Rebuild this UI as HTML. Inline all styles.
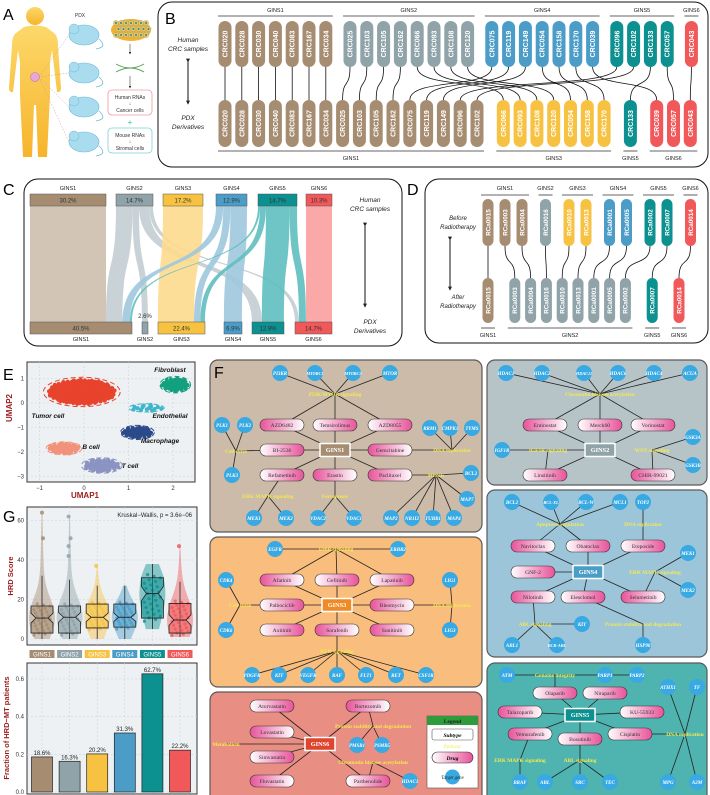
<!DOCTYPE html>
<html><head><meta charset="utf-8">
<style>
html,body{margin:0;padding:0;background:#fff;}
svg{display:block;font-family:"Liberation Sans",sans-serif;}
.serif{font-family:"Liberation Serif",serif;}
</style></head>
<body>
<svg id="fig" width="710" height="795" viewBox="0 0 710 795" xmlns="http://www.w3.org/2000/svg">
<defs>
<linearGradient id="skin" x1="0" y1="0" x2="0" y2="1"><stop offset="0" stop-color="#fcd86a"/><stop offset="1" stop-color="#f7b42c"/></linearGradient>
<linearGradient id="drugA" x1="0" y1="0" x2="1" y2="0"><stop offset="0" stop-color="#e8539a"/><stop offset="1" stop-color="#ffffff"/></linearGradient>
<linearGradient id="drugB" x1="0" y1="0" x2="1" y2="0"><stop offset="0" stop-color="#ffffff"/><stop offset="1" stop-color="#e8539a"/></linearGradient>
<marker id="arr" viewBox="0 0 6 6" refX="5" refY="3" markerWidth="4" markerHeight="4" orient="auto"><path d="M0,0L6,3L0,6Z" fill="#222"/></marker>
<marker id="tee" viewBox="0 0 4 8" refX="2" refY="4" markerWidth="3" markerHeight="6" orient="auto"><path d="M2,0L2,8" stroke="#222" stroke-width="1.5"/></marker>
</defs>

<!-- Panel A -->
<g>
<text x="3" y="20" font-size="16">A</text>
<circle cx="35" cy="16" r="9" fill="url(#skin)"/>
<path fill="url(#skin)" d="M24,27 Q35,24 46,27 L54,33 Q58,36 58,46 L61,88 Q61,93 57,92 L52,50 L50,62 L50,95 L47,157 L38,157 L36,105 L34,105 L32,157 L23,157 L20,95 L20,62 L18,50 L13,92 Q9,93 9,88 L12,46 Q12,36 16,33 Z"/>
<circle cx="35" cy="77" r="4.5" fill="#e9a7d8" stroke="#b57ab0" stroke-width="0.6"/>
<text x="80" y="17" font-size="5" fill="#333" text-anchor="middle">PDX</text>
<g id="mice"></g>
<g>
<ellipse cx="131" cy="30" rx="20" ry="11" fill="#f2b035"/>
<g id="cells"></g>
</g>
<path d="M130,44 L130,54" stroke="#444" stroke-width="0.6" marker-end="url(#arr)"/>
<path d="M116,64 Q130,72 144,64 M116,72 Q130,64 144,72" stroke="#5aa05a" stroke-width="1" fill="none"/>
<path d="M130,76 L130,88" stroke="#444" stroke-width="0.6" marker-end="url(#arr)"/>
<rect x="108" y="90" width="44" height="25" rx="4" fill="#fff" stroke="#f09aa0" stroke-width="0.8"/>
<text x="130" y="99" font-size="5" text-anchor="middle" fill="#333">Human RNAs</text>
<text x="130" y="105" font-size="5" text-anchor="middle" fill="#333">↓</text>
<text x="130" y="112" font-size="5" text-anchor="middle" fill="#333">Cancer cells</text>
<text x="130" y="125" font-size="8" text-anchor="middle" fill="#3cb7b0">+</text>
<rect x="108" y="128" width="44" height="25" rx="4" fill="#fff" stroke="#7fd3d0" stroke-width="0.8"/>
<text x="130" y="137" font-size="5" text-anchor="middle" fill="#333">Mouse RNAs</text>
<text x="130" y="143" font-size="5" text-anchor="middle" fill="#333">↓</text>
<text x="130" y="150" font-size="5" text-anchor="middle" fill="#333">Stromal cells</text>
</g>

<!-- Panel B -->
<g id="panelB">
<rect x="158" y="2" width="550" height="165" rx="14" fill="#fff" stroke="#111" stroke-width="1"/>
<text x="165" y="24" font-size="16">B</text>
<text x="188" y="42" font-size="6.5" font-style="italic" text-anchor="middle" fill="#222">Human</text>
<text x="188" y="51" font-size="6.5" font-style="italic" text-anchor="middle" fill="#222">CRC samples</text>
<path d="M188,62 L188,104" stroke="#111" stroke-width="1" marker-start="url(#arr)" marker-end="url(#arr)"/>
<text x="188" y="120" font-size="6.5" font-style="italic" text-anchor="middle" fill="#222">PDX</text>
<text x="188" y="129" font-size="6.5" font-style="italic" text-anchor="middle" fill="#222">Derivatives</text>
</g>

<!-- Panel C -->
<g id="panelC">
<rect x="24" y="179" width="378" height="167" rx="14" fill="#fff" stroke="#111" stroke-width="1"/>
<text x="3" y="195" font-size="16">C</text>
<text x="370" y="202" font-size="6.5" font-style="italic" text-anchor="middle" fill="#222">Human</text>
<text x="370" y="211" font-size="6.5" font-style="italic" text-anchor="middle" fill="#222">CRC samples</text>
<path d="M365,226 L365,307" stroke="#111" stroke-width="1" marker-start="url(#arr)" marker-end="url(#arr)"/>
<text x="370" y="324" font-size="6.5" font-style="italic" text-anchor="middle" fill="#222">PDX</text>
<text x="370" y="333" font-size="6.5" font-style="italic" text-anchor="middle" fill="#222">Derivatives</text>
</g>

<!-- Panel D -->
<g id="panelD">
<rect x="425" y="179" width="283" height="164" rx="14" fill="#fff" stroke="#111" stroke-width="1"/>
<text x="407" y="195" font-size="16">D</text>
<text x="458" y="220" font-size="6" font-style="italic" text-anchor="middle" fill="#222">Before</text>
<text x="458" y="229" font-size="6" font-style="italic" text-anchor="middle" fill="#222">Radiotherapy</text>
<path d="M450,240 L450,290" stroke="#111" stroke-width="1" marker-start="url(#arr)" marker-end="url(#arr)"/>
<text x="458" y="299" font-size="6" font-style="italic" text-anchor="middle" fill="#222">After</text>
<text x="458" y="308" font-size="6" font-style="italic" text-anchor="middle" fill="#222">Radiotherapy</text>
</g>

<!-- Panel E -->
<g id="panelE">
<text x="3" y="380" font-size="16">E</text>
<rect x="27" y="362" width="168" height="120" fill="#eef1f4" stroke="#333" stroke-width="1"/>
<text x="85" y="498" font-size="8" font-weight="bold" fill="#9b1c1c" text-anchor="middle">UMAP1</text>
<text transform="translate(12,408) rotate(-90)" font-size="8" font-weight="bold" fill="#9b1c1c" text-anchor="middle">UMAP2</text>
</g>

<!-- Panel G -->
<g id="panelG">
<text x="3" y="522" font-size="16">G</text>
<rect x="27" y="507" width="170" height="138" fill="#eef1f4" stroke="#333" stroke-width="1"/>
<text x="192" y="517" font-size="6" fill="#222" text-anchor="end">Kruskal−Wallis, p = 3.6e−06</text>
<text transform="translate(13,576) rotate(-90)" font-size="7.5" font-weight="bold" fill="#9b1c1c" text-anchor="middle">HRD Score</text>
<rect x="27" y="663" width="170" height="131" fill="#eef1f4" stroke="#333" stroke-width="1"/>
<text transform="translate(9,728) rotate(-90)" font-size="7.5" font-weight="bold" fill="#9b1c1c" text-anchor="middle">Fraction of HRD−MT patients</text>
</g>

<!-- Panel F -->
<g id="panelF" class="serif"></g>
</svg>

<script>
const NS="http://www.w3.org/2000/svg";
function mk(tag,attrs,parent,txt){const e=document.createElementNS(NS,tag);for(const k in attrs)e.setAttribute(k,attrs[k]);if(txt!==undefined)e.textContent=txt;(parent||document.getElementById('fig')).appendChild(e);return e;}
const COL={GINS1:"#a68c71",GINS2:"#8fa3a9",GINS3:"#f7c242",GINS4:"#4b9dc8",GINS5:"#0c9090",GINS6:"#f0585a"};
const LIGHT={GINS1:"#cdbfae",GINS2:"#c3cdd1",GINS3:"#fdda8e",GINS4:"#9ec8de",GINS5:"#5fbfbf",GINS6:"#fb9fa0"};

// ---------- Panel A extras ----------
(function(){
  const m=document.getElementById('mice');
  const miceY=[35,73,107,142];
  miceY.forEach((y,i)=>{
    const e=mk('ellipse',{cx:84,cy:y,rx:15,ry:10,fill:"#a8dcee",stroke:"#6cb9d3","stroke-width":0.6},m);
    
    
    mk('circle',{cx:74,cy:y-6,r:5,fill:"#a8dcee",stroke:"#6cb9d3","stroke-width":0.5},m);
    mk('path',{d:`M99,${y+4} Q108,${y+12} 96,${y+14}`,stroke:"#6cb9d3","stroke-width":0.8,fill:"none"},m);
    mk('line',{x1:39,y1:77,x2:69,y2:y,stroke:"#c99","stroke-width":0.5,"stroke-dasharray":"1.5,1.5"},m);
  });
  const c=document.getElementById('cells');
  for(let r=0;r<3;r++)for(let k=0;k<7;k++){
    mk('circle',{cx:116+k*5+(r%2)*2.5,cy:23+r*6,r:2.6,fill:"#f5c24a",stroke:"#7aa","stroke-width":0.4},c);
    mk('circle',{cx:116+k*5+(r%2)*2.5,cy:23+r*6,r:1,fill:"#2a8aa8"},c);
  }
})();

// ---------- Panel B ----------
const bTopNames=["CRC020","CRC028","CRC030","CRC040","CRC083","CRC167","CRC034","CRC025","CRC103","CRC105","CRC162","CRC066","CRC093","CRC108","CRC120","CRC075","CRC119","CRC149","CRC054","CRC158","CRC170","CRC039","CRC096","CRC102","CRC133","CRC057","CRC043"];
const bTopGroups=["GINS1","GINS1","GINS1","GINS1","GINS1","GINS1","GINS1","GINS2","GINS2","GINS2","GINS2","GINS2","GINS2","GINS2","GINS2","GINS4","GINS4","GINS4","GINS4","GINS4","GINS4","GINS4","GINS5","GINS5","GINS5","GINS5","GINS6"];
const bBotNames=["CRC020","CRC028","CRC030","CRC040","CRC083","CRC167","CRC034","CRC025","CRC103","CRC105","CRC162","CRC075","CRC119","CRC149","CRC096","CRC102","CRC066","CRC093","CRC108","CRC120","CRC054","CRC158","CRC170","CRC133","CRC039","CRC057","CRC043"];
const bBotGroups=["GINS1","GINS1","GINS1","GINS1","GINS1","GINS1","GINS1","GINS1","GINS1","GINS1","GINS1","GINS1","GINS1","GINS1","GINS1","GINS1","GINS3","GINS3","GINS3","GINS3","GINS3","GINS3","GINS3","GINS5","GINS6","GINS6","GINS6"];

function rowX(groups,x0,step,gap){const xs=[];let x=x0;groups.forEach((g,i)=>{if(i>0){x+=step;if(g!==groups[i-1])x+=gap;}xs.push(x);});return xs;}
function groupSpans(groups,xs){const s=[];groups.forEach((g,i)=>{if(!s.length||s[s.length-1].g!==g)s.push({g,a:xs[i],b:xs[i]});else s[s.length-1].b=xs[i];});return s;}
function pill(parent,x,y1,y2,w,color,label,fs,nm){
  const g=mk('g',{},parent);
  
  
  mk('rect',{x:x-w/2,y:y1,width:w,height:y2-y1,rx:w/2,fill:color},g);
  mk('text',{transform:`translate(${x+fs*0.36},${(y1+y2)/2}) rotate(-90)`,"font-size":fs,fill:"#fff","text-anchor":"middle","font-weight":"bold"},g,label);
}
function drawMatch(parent,topN,topG,botN,botG,topX,botX,top,bot,w,fs,lineYs,labelYs,prefix){
  const lg=mk('g',{},parent);
  topN.forEach((n,i)=>{const j=botN.indexOf(n);if(j<0)return;
    const x1=topX[i],x2=botX[j],y1=top[1],y2=bot[0],my=(y1+y2)/2;
    const p=mk('path',{d:`M${x1},${y1} C${x1},${my+6} ${x2},${my-6} ${x2},${y2}`,stroke:"#111","stroke-width":0.8,fill:"none"},lg);
    
    
  });
  topN.forEach((n,i)=>pill(parent,topX[i],top[0],top[1],w,COL[topG[i]],n,fs,prefix+'-top-pill'));
  botN.forEach((n,i)=>pill(parent,botX[i],bot[0],bot[1],w,COL[botG[i]],n,fs,prefix+'-bottom-pill'));
  groupSpans(topG,topX).forEach(s=>{
    mk('line',{x1:s.a-7,x2:s.b+7,y1:lineYs[0],y2:lineYs[0],stroke:"#333","stroke-width":0.8},parent);
    const t=mk('text',{x:(s.a+s.b)/2,y:labelYs[0],"font-size":5.5,"text-anchor":"middle",fill:"#222"},parent,s.g);
    
    
  });
  groupSpans(botG,botX).forEach(s=>{
    mk('line',{x1:s.a-7,x2:s.b+7,y1:lineYs[1],y2:lineYs[1],stroke:"#333","stroke-width":0.8},parent);
    const t=mk('text',{x:(s.a+s.b)/2,y:labelYs[1],"font-size":5.5,"text-anchor":"middle",fill:"#222"},parent,s.g);
    
    
  });
}
(function(){
  const P=document.getElementById('panelB');
  const tx=rowX(bTopGroups,225,16.8,7.4), bx=rowX(bBotGroups,225,16.8,9.5);
  drawMatch(P,bTopNames,bTopGroups,bBotNames,bBotGroups,tx,bx,[21,67],[100,147],13,7,[16,151],[12,160],'b');
})();

// ---------- Panel D ----------
const dTopNames=["RCa0015","RCa0003","RCa0004","RCa0016","RCa0010","RCa0013","RCa0001","RCa0005","RCa0002","RCa0007","RCa0014"];
const dTopGroups=["GINS1","GINS1","GINS1","GINS2","GINS3","GINS3","GINS4","GINS4","GINS5","GINS5","GINS6"];
const dBotNames=["RCa0015","RCa0003","RCa0004","RCa0016","RCa0010","RCa0013","RCa0001","RCa0005","RCa0002","RCa0007","RCa0014"];
const dBotGroups=["GINS1","GINS2","GINS2","GINS2","GINS2","GINS2","GINS2","GINS2","GINS2","GINS5","GINS6"];
(function(){
  const P=document.getElementById('panelD');
  const tx=rowX(dTopGroups,488,17,6.5), bx=rowX(dBotGroups,488,15.8,11);
  drawMatch(P,dTopNames,dTopGroups,dBotNames,dBotGroups,tx,bx,[199,246],[278,323],11,6.3,[195,328],[190,337],'d');
})();

// ---------- Panel C ----------
const cGroups=["GINS1","GINS2","GINS3","GINS4","GINS5","GINS6"];
const cTopPct=[30.2,14.7,17.2,12.9,14.7,10.3];
const cBotPct=[40.5,2.6,22.4,6.9,12.9,14.7];
const cFlowFrom=["GINS1","GINS2","GINS2","GINS2","GINS2","GINS3","GINS4","GINS4","GINS4","GINS5","GINS5","GINS5","GINS5","GINS6"];
const cFlowTo=  ["GINS1","GINS1","GINS2","GINS5","GINS6","GINS3","GINS1","GINS3","GINS4","GINS1","GINS3","GINS5","GINS6","GINS6"];
const cFlowVal= [30.2,  6.5,   2.6,   4.0,   1.6,   17.2,  3.0,   3.0,   6.9,   0.8,   2.2,   8.9,   2.8,   10.3];
(function(){
  const P=document.getElementById('panelC');
  const topBars=[[30,106],[116,153],[163,203],[216,247],[258,297],[306,332]];
  const botBars=[[30,132],[142,148],[158,205],[224,242],[252,284],[295,332]];
  const tTot={},bTot={},tUsed={},bUsed={};
  cGroups.forEach(g=>{tTot[g]=0;bTot[g]=0;tUsed[g]=0;bUsed[g]=0;});
  cFlowVal.forEach((v,i)=>{tTot[cFlowFrom[i]]+=v;bTot[cFlowTo[i]]+=v;});
  // order bottom by source index for nicer ribbons
  const order=cFlowVal.map((v,i)=>i);
  const botOrder=order.slice().sort((a,b)=>cGroups.indexOf(cFlowTo[a])-cGroups.indexOf(cFlowTo[b])||cGroups.indexOf(cFlowFrom[a])-cGroups.indexOf(cFlowFrom[b]));
  const seg={};
  order.forEach(i=>{const g=cFlowFrom[i],k=cGroups.indexOf(g),bb=topBars[k],w=(bb[1]-bb[0])*cFlowVal[i]/tTot[g];seg[i]={ta:bb[0]+tUsed[g],tb:bb[0]+tUsed[g]+w};tUsed[g]+=w;});
  botOrder.forEach(i=>{const g=cFlowTo[i],k=cGroups.indexOf(g),bb=botBars[k],w=(bb[1]-bb[0])*cFlowVal[i]/bTot[g];seg[i].ba=bb[0]+bUsed[g];seg[i].bb=bb[0]+bUsed[g]+w;bUsed[g]+=w;});
  const y1=206,y2=322,m1=250,m2=278;
  const fg=mk('g',{},P);
  order.forEach(i=>{const s=seg[i];
    const p=mk('path',{d:`M${s.ta},${y1} C${s.ta},${m2} ${s.ba},${m1} ${s.ba},${y2} L${s.bb},${y2} C${s.bb},${m1} ${s.tb},${m2} ${s.tb},${y1} Z`,fill:LIGHT[cFlowFrom[i]],opacity:0.9},fg);
    
    
  });
  cGroups.forEach((g,k)=>{
    const t=topBars[k],b=botBars[k];
    const r1=mk('rect',{x:t[0],y:194,width:t[1]-t[0],height:12,fill:COL[g],stroke:"#555","stroke-width":0.5},P);
    
    
    mk('text',{x:(t[0]+t[1])/2,y:202.5,"font-size":6,"text-anchor":"middle",fill:"#333"},P,cTopPct[k].toFixed(1)+"%");
    mk('text',{x:(t[0]+t[1])/2,y:190,"font-size":5.5,"text-anchor":"middle",fill:"#222"},P,g);
    const r2=mk('rect',{x:b[0],y:322,width:b[1]-b[0],height:12,fill:COL[g],stroke:"#555","stroke-width":0.5},P);
    
    
    const lab=cBotPct[k].toFixed(1)+"%";
    if(b[1]-b[0]<15) mk('text',{x:(b[0]+b[1])/2,y:318,"font-size":6,"text-anchor":"middle",fill:"#333"},P,lab);
    else mk('text',{x:(b[0]+b[1])/2,y:330.5,"font-size":6,"text-anchor":"middle",fill:"#333"},P,lab);
    mk('text',{x:(b[0]+b[1])/2,y:341,"font-size":5.5,"text-anchor":"middle",fill:"#222"},P,g);
  });
})();

// ---------- Panel E ----------
const eCellTypes=["Tumor cell","Fibroblast","Endothelial","Macrophage","B cell","T cell"];
const eCenterX=[-0.05,2.05,1.4,1.2,-0.45,0.4];
const eCenterY=[0.45,0.75,-0.2,-1.2,-1.85,-2.55];
const eSpreadX=[0.75,0.3,0.35,0.33,0.35,0.4];
const eSpreadY=[0.5,0.28,0.14,0.24,0.22,0.26];
const eCounts=[260,40,14,40,45,50];
const eColors=["#e8432d","#13a07e","#3fb5cc","#2b4a8a","#f0937a","#8a93c2"];
const eXTicks=[-1,0,1,2], eYTicks=[1,0,-1,-2,-3];
(function(){
  const P=document.getElementById('panelE');
  const X=u=>84+44.5*u, Y=v=>403-24.5*v;
  eXTicks.forEach(t=>{mk('line',{x1:X(t),x2:X(t),y1:362,y2:482,stroke:"#cfd3d8","stroke-width":0.6,"stroke-dasharray":"2,2"},P);
    const l=mk('text',{x:X(t),y:490,"font-size":6,"text-anchor":"middle",fill:"#333"},P,t<0?"−"+(-t):t);
    });
  eYTicks.forEach(t=>{mk('line',{x1:27,x2:195,y1:Y(t),y2:Y(t),stroke:"#cfd3d8","stroke-width":0.6,"stroke-dasharray":"2,2"},P);
    const l=mk('text',{x:24,y:Y(t)+2,"font-size":6,"text-anchor":"end",fill:"#333"},P,t<0?"−"+(-t):t);
    });
  const ga=2.39996;
  eCellTypes.forEach((c,k)=>{
    const g=mk('g',{},P);
    
    
    mk('ellipse',{cx:X(eCenterX[k]),cy:Y(eCenterY[k]),rx:44.5*eSpreadX[k]*1.15,ry:24.5*eSpreadY[k]*1.2,fill:"none",stroke:eColors[k],"stroke-width":1,"stroke-dasharray":"5,3"},g);
    for(let i=0;i<eCounts[k];i++){const r=Math.sqrt((i+0.5)/eCounts[k]),a=i*ga;
      mk('circle',{cx:X(eCenterX[k]+eSpreadX[k]*r*Math.cos(a)),cy:Y(eCenterY[k]+eSpreadY[k]*r*Math.sin(a)),r:2.1,fill:eColors[k]},g);}
  });
  const labs=[[48,418,"middle"],[170,372,"middle"],[170,418,"middle"],[160,443,"middle"],[91,449,"middle"],[130,468,"middle"]];
  eCellTypes.forEach((c,k)=>{const t=mk('text',{x:labs[k][0],y:labs[k][1],"font-size":6.5,"font-weight":"bold","font-style":"italic","text-anchor":labs[k][2],fill:"#111"},P,c);
    });
})();

// ---------- Panel G ----------
const gGroups=["GINS1","GINS2","GINS3","GINS4","GINS5","GINS6"];
const gMin=[0,0,0,0,5,1];
const gQ1=[3,3,5.6,6,10.6,3];
const gMed=[10.6,11,11,11,23,9.6];
const gQ3=[16.7,16.7,17.7,17.7,31,18];
const gWhiskHi=[32,30,27,27,38,29];
const gOutliers=[[64,51],[62,51,47,42],[37],[],[],[47]];
const gYTicks=[0,20,40,60];
const hrdFraction=[0.186,0.163,0.202,0.313,0.627,0.222];
const hrdLabels=["18.6%","16.3%","20.2%","31.3%","62.7%","22.2%"];
const fracTicks=[0.0,0.2,0.4,0.6];
(function(){
  const P=document.getElementById('panelG');
  const cx=k=>42+k*27.6, Y=v=>639-v*1.975, YB=v=>792-v*188.5;
  gYTicks.forEach(t=>{mk('line',{x1:27,x2:197,y1:Y(t),y2:Y(t),stroke:"#cfd3d8","stroke-width":0.6,"stroke-dasharray":"2,2"},P);
    mk('text',{x:24,y:Y(t)+2,"font-size":6,"text-anchor":"end",fill:"#333"},P,t);});
  gGroups.forEach((g,k)=>mk('line',{x1:cx(k),x2:cx(k),y1:507,y2:645,stroke:"#cfd3d8","stroke-width":0.6,"stroke-dasharray":"2,2"},P));
  gGroups.forEach((g,k)=>{
    const x=cx(k);
    // violin
    const lo=gMin[k],hi=Math.max(gWhiskHi[k],...gOutliers[k].concat([0])) ;
    const pts=[];const n=24;
    for(let i=0;i<=n;i++){const v=lo+(hi-lo)*i/n;let w;
      if(v<=gQ3[k]) w=11*Math.exp(-Math.pow((v-gMed[k])/((gQ3[k]-gQ1[k])*0.95),2))+2;
      else w=11*Math.exp(-Math.pow((v-gMed[k])/((gQ3[k]-gQ1[k])*0.95),2))+2*Math.max(0,(hi-v)/(hi-gQ3[k]))+0.4;
      pts.push([w,Y(v)]);}
    let d="M"+pts.map(p=>(x-p[0])+","+p[1]).join(" L")+" L"+pts.slice().reverse().map(p=>(x+p[0])+","+p[1]).join(" L")+"Z";
    const vi=mk('path',{d,fill:COL[g],opacity:0.45},P);
    
    // jitter points (deterministic spread within IQR-ish)
    for(let i=0;i<28;i++){const f=(i+0.5)/28,v=gQ1[k]+(gQ3[k]-gQ1[k])*(f*1.2-0.1),off=((i*7)%11-5)*1.6;
      mk('circle',{cx:x+off,cy:Y(v),r:1.6,fill:COL[g],opacity:0.8},P);}
    mk('line',{x1:x,x2:x,y1:Y(gMin[k]),y2:Y(gWhiskHi[k]),stroke:"#222","stroke-width":0.8},P);
    const hw=11,nw=6,nh=(gQ3[k]-gQ1[k])*0.18;
    const bx=mk('path',{d:`M${x-hw},${Y(gQ1[k])} L${x-hw},${Y(gMed[k]-nh)} L${x-nw},${Y(gMed[k])} L${x-hw},${Y(gMed[k]+nh)} L${x-hw},${Y(gQ3[k])} L${x+hw},${Y(gQ3[k])} L${x+hw},${Y(gMed[k]+nh)} L${x+nw},${Y(gMed[k])} L${x+hw},${Y(gMed[k]-nh)} L${x+hw},${Y(gQ1[k])} Z`,fill:COL[g],"fill-opacity":0.55,stroke:"#222","stroke-width":0.8},P);
    
    mk('line',{x1:x-nw,x2:x+nw,y1:Y(gMed[k]),y2:Y(gMed[k]),stroke:"#222","stroke-width":0.9},P);
    gOutliers[k].forEach(o=>mk('circle',{cx:x+((o*3)%5-2),cy:Y(o),r:2,fill:COL[g],opacity:0.85},P));
    // strip label
    const sr=mk('rect',{x:x-12.5,y:650,width:25,height:8,fill:COL[g]},P);
    
    mk('text',{x:x,y:656.5,"font-size":6,"text-anchor":"middle",fill:"#fff"},P,g);
  });
  // fraction bars
  fracTicks.forEach(t=>{mk('line',{x1:27,x2:197,y1:YB(t),y2:YB(t),stroke:"#cfd3d8","stroke-width":0.6,"stroke-dasharray":"2,2"},P);
    mk('text',{x:24,y:YB(t)+2,"font-size":6,"text-anchor":"end",fill:"#333"},P,t.toFixed(1));});
  gGroups.forEach((g,k)=>mk('line',{x1:cx(k),x2:cx(k),y1:663,y2:794,stroke:"#cfd3d8","stroke-width":0.6,"stroke-dasharray":"2,2"},P));
  hrdFraction.forEach((v,k)=>{const x=cx(k);
    const b=mk('rect',{x:x-10.5,y:YB(v),width:21,height:YB(0)-YB(v),fill:COL[gGroups[k]],stroke:"#222","stroke-width":0.7},P);
    
    const t=mk('text',{x:x,y:YB(v)-2,"font-size":6,"text-anchor":"middle",fill:"#222"},P,hrdLabels[k]);
    
  });
})();

// ---------- Panel F ----------
(function(){
  const P=document.getElementById('panelF');
  const boxes=[
    ["brown-box",210,360,482,532,"#cbbba8"],["gray-box",487,360,707,485,"#b7c4c7"],
    ["orange-box",210,537,482,687,"#f9bd7e"],["blue-box",487,490,707,657,"#9dc5d9"],
    ["red-box",210,692,482,795,"#e98e82"],["teal-box",487,663,707,795,"#4fb3b0"]];
  boxes.forEach(b=>{const r=mk('rect',{x:b[1],y:b[2],width:b[3]-b[1],height:b[4]-b[2]+(b[4]>=795?8:0),rx:8,fill:b[5],stroke:"#5a5a5a","stroke-width":1.2},P);
    });
  mk('text',{x:214,y:378,"font-size":16,"font-family":"Liberation Sans"},P,"F");
  const N={};
  const lines=mk('g',{},P), nodes=mk('g',{},P);
  function tgt(id,x,y,label){N[id]=[x,y];const g=mk('g',{},nodes);
    
    mk('circle',{cx:x,cy:y,r:8,fill:"#38a9e2"},g);
    mk('text',{x:x,y:y+1.8,"font-size":label.length>5?4.3:5,"font-style":"italic","font-weight":"bold","text-anchor":"middle",fill:"#fff"},g,label);}
  function drug(id,x,y,label,rev,w){w=w||44;N[id]=[x,y];const g=mk('g',{},nodes);
    
    mk('rect',{x:x-w/2,y:y-6,width:w,height:12,rx:6,fill:rev?"url(#drugB)":"url(#drugA)",stroke:"#333","stroke-width":0.6},g);
    mk('text',{x:x,y:y+2,"font-size":5.6,"text-anchor":"middle",fill:"#333"},g,label);}
  function path(id,x,y,label){N[id]=[x,y];const t=mk('text',{x:x,y:y+2,"font-size":5.4,"text-anchor":"middle",fill:"#f3e94e","font-weight":"bold"},nodes,label);
    }
  function gins(id,x,y,label,col){N[id]=[x,y];const g=mk('g',{},nodes);
    
    mk('rect',{x:x-15,y:y-6.5,width:30,height:13,fill:col,stroke:"#fff","stroke-width":1.5},g);
    mk('text',{x:x,y:y+2.2,"font-size":6.3,"font-weight":"bold","text-anchor":"middle",fill:"#fff"},g,label);}
  function ln(a,b,type){const A=N[a],B=N[b];const p=mk('line',{x1:A[0],y1:A[1],x2:B[0],y2:B[1],stroke:"#222","stroke-width":0.8},lines);
    if(type==='a')p.setAttribute('marker-end','url(#arr)');if(type==='t')p.setAttribute('marker-end','url(#tee)');}
  // brown
  tgt('pik3r',280,373,'PI3KR');tgt('mtorc1',315,373,'MTORC1');tgt('mtorc2',353,373,'MTORC2');tgt('mtor',390,373,'MTOR');
  path('pi3k',335,394,'PI3K/MTOR signaling');
  drug('azd64',282,425,'AZD6482');drug('tems',335,425,'Temsirolimus',true);drug('azd80',390,425,'AZD8055',true);
  gins('g1',335,450,'GINS1',COL.GINS1);
  drug('bi',282,450,'BI-2536',true);drug('gem',390,450,'Gemcitabine');
  tgt('plk1',222,425,'PLK1');tgt('plk2',245,425,'PLK2');tgt('plk3',232,475,'PLK3');path('cc1',236,451,'Cell cycle');
  drug('refa',282,475,'Refametinib',true);drug('eras',335,475,'Erastin');drug('pacl',390,475,'Paclitaxel');
  path('mit',436,475,'Mitosis');tgt('bcl2a',471,473,'BCL2');path('dna1',452,450,'DNA replication');
  tgt('rrm1',430,428,'RRM1');tgt('cmpk1',450,428,'CMPK1');tgt('tyms',472,428,'TYMS');
  path('erk1',268,496,'ERK MAPK signaling');tgt('mek1a',254,518,'MEK1');tgt('mek2a',286,518,'MEK2');
  path('ferr',335,496,'Ferroptosis');tgt('vdac2',318,518,'VDAC2');tgt('vdac1',354,518,'VDAC1');
  tgt('map2',391,518,'MAP2');tgt('nr1i2',412,518,'NR1I2');tgt('tubb1',433,518,'TUBB1');tgt('map4',454,518,'MAP4');tgt('map7',467,499,'MAP7');
  ['pik3r','mtorc1','mtorc2','mtor','azd64','tems','azd80'].forEach(n=>ln(n,'pi3k'));
  ['azd64','tems','azd80','bi','gem','refa','eras','pacl'].forEach(n=>ln(n,'g1','a'));
  ln('bi','cc1');ln('plk1','cc1');ln('plk2','cc1');ln('plk3','cc1');ln('pacl','mit');ln('mit','bcl2a','t');ln('gem','dna1');
  ['rrm1','cmpk1','tyms'].forEach(n=>ln(n,'dna1'));ln('refa','erk1');ln('erk1','mek1a');ln('erk1','mek2a');ln('eras','ferr');ln('ferr','vdac2');ln('ferr','vdac1');
  ['map2','nr1i2','tubb1','map4','map7'].forEach(n=>ln('mit',n,'a'));
  // gray
  [['h1',506,'HDAC1'],['h2',542,'HDAC2'],['h11',584,'HDAC11'],['h6',618,'HDAC6'],['h4',654,'HDAC4'],['acua',690,'ACUA']].forEach(a=>tgt(a[0],a[1],373,a[2]));
  path('chr',600,394,'Chromatin histone acetylation');
  drug('enti',545,425,'Entinostat');drug('merck',600,425,'Merck60',true);drug('vori',653,425,'Vorinostat',true);
  gins('g2',600,450,'GINS2',COL.GINS2);tgt('igf1r',502,450,'IGF1R');path('igfs',548,450,'IGF1R signaling');
  drug('lins',545,475,'Linsitinib',true);path('wnt',652,450,'WNT signaling');drug('chir',653,475,'CHIR-99021');
  tgt('gsk3a',693,437,'GSK3A');tgt('gsk3b',693,465,'GSK3B');
  ['h1','h2','h11','h6','h4','acua','enti','merck','vori'].forEach(n=>ln(n,'chr'));
  ['enti','merck','vori','lins','chir'].forEach(n=>ln(n,'g2','a'));ln('igfs','igf1r','t');ln('lins','igfs');ln('chir','wnt');ln('wnt','gsk3a');ln('wnt','gsk3b');ln('igfs','g2','a');
  // blue
  [['bcl2',512,'BCL2'],['bclxl',551,'BCL-XL'],['bclw',586,'BCL-W'],['mcl1',620,'MCL1'],['top2',643,'TOP2']].forEach(a=>tgt(a[0],a[1],502,a[2]));
  path('apo',560,524,'Apoptosis regulation');path('dna2',643,524,'DNA replication');
  drug('navi',533,546,'Navitoclax');drug('obat',588,546,'Obatoclax',true);drug('etop',643,546,'Etoposide',true);
  drug('gnf',533,572,'GNF-2',true);gins('g4',588,572,'GINS4',COL.GINS4);path('erk4',655,572,'ERK MAPK signaling');
  tgt('mek1b',688,553,'MEK1');tgt('mek2b',688,590,'MEK2');
  drug('nilo',533,597,'Nilotinib');drug('eles',583,597,'Elesclomol',true);drug('selu',643,597,'Selumetinib');
  path('abl4',535,624,'ABL signaling');tgt('kit4',582,624,'KIT');path('prot4',643,624,'Protein stability and degradation');
  tgt('abl1',512,645,'ABL1');tgt('bcr',557,645,'BCR-ABL');tgt('hsp',643,645,'HSP90');
  ['bcl2','bclxl','bclw','mcl1'].forEach(n=>ln('apo',n,'a'));ln('navi','apo');ln('obat','apo');ln('etop','dna2');ln('dna2','top2','a');
  ['navi','obat','etop','gnf','nilo','eles','selu'].forEach(n=>ln(n,'g4','a'));ln('selu','erk4');ln('erk4','mek1b','a');ln('erk4','mek2b','a');
  ln('nilo','abl4');ln('abl4','kit4','t');ln('abl4','abl1','a');ln('abl4','bcr','a');ln('eles','prot4');ln('prot4','hsp','t');
  // teal
  tgt('atm',507,675,'ATM');path('gen',555,675,'Genome integrity');tgt('parp1',605,675,'PARP1');tgt('parp2',637,675,'PARP2');
  drug('olap',555,693,'Olaparib',true);drug('nira',605,693,'Niraparib',true);drug('tala',520,712,'Talazoparib');
  gins('g5',580,715,'GINS5',COL.GINS5);drug('ku',642,712,'KU-55933',true);
  drug('vemu',530,734,'Vemurafenib');drug('bosu',580,739,'Bosutinib',true);drug('cisp',630,734,'Cisplatin',true);
  path('dna5',685,734,'DNA replication');tgt('atxn',668,687,'ATHX1');tgt('tf',697,687,'TF');tgt('mpg',668,782,'MPG');tgt('a2m',697,782,'A2M');
  path('erk5',520,760,'ERK MAPK signaling');path('abl5',580,760,'ABL signaling');
  tgt('braf',520,782,'BRAF');tgt('abl',545,782,'ABL');tgt('src',580,782,'SRC');tgt('tec',610,782,'TEC');
  ln('gen','atm','t');ln('gen','parp1','t');ln('parp1','parp2','t');ln('olap','gen');
  ['olap','nira','tala','ku','vemu','bosu','cisp'].forEach(n=>ln(n,'g5','a'));
  ln('cisp','dna5');ln('dna5','atxn','a');ln('dna5','tf','a');ln('dna5','mpg','a');ln('dna5','a2m','a');
  ln('vemu','erk5');ln('erk5','braf','t');ln('bosu','abl5');ln('abl5','abl','t');ln('abl5','src','t');ln('abl5','tec','t');
  // orange
  tgt('egfr',275,549,'EGFR');tgt('erbb2',398,549,'ERBB2');path('erbb',336,549,'ErbB signaling');
  drug('afat',282,580,'Afatinib');drug('gefi',337,580,'Gefitinib',true);drug('lapa',392,580,'Lapatinib',true);
  tgt('cdk4',226,580,'CDK4');tgt('lig1',450,580,'LIG1');path('cc3',240,605,'Cell cycle');
  drug('palb',282,605,'Palbociclib',true);gins('g3',337,605,'GINS3',COL.GINS3==="#f7c242"?"#f08a24":COL.GINS3);drug('bleo',392,605,'Bleomycin');
  path('dna3',452,605,'DNA replication');tgt('cdk6',226,630,'CDK6');tgt('lig3',450,630,'LIG3');
  drug('axit',282,630,'Axitinib',true);drug('sora',337,630,'Sorafenib');drug('suni',392,630,'Sunitinib');
  path('rtk',337,651,'RTK signaling');
  [['pdgfr',252,'PDGFR'],['kit3',279,'KIT'],['vegfr',308,'VEGFR'],['raf',337,'RAF'],['flt1',366,'FLT1'],['ret',396,'RET'],['csf1r',426,'CSF1R']].forEach(a=>{tgt(a[0],a[1],675,a[2]);ln('rtk',a[0],'t');});
  ln('erbb','egfr','t');ln('erbb','erbb2','t');['afat','gefi','lapa'].forEach(n=>ln(n,'erbb'));
  ['afat','gefi','lapa','palb','bleo','axit','sora','suni'].forEach(n=>ln(n,'g3','a'));
  ln('palb','cc3');ln('cc3','cdk4','t');ln('cc3','cdk6','t');ln('bleo','dna3');ln('dna3','lig1','t');ln('dna3','lig3','t');ln('sora','rtk');
  // red
  drug('ator',272,706,'Atorvastatin',true);drug('lova',272,732,'Lovastatin');drug('simv',272,757,'Simvastatin',true);drug('fluv',272,781,'Fluvastatin');
  path('meta',226,744,'Metabolism');gins('g6',320,744,'GINS6',"#e0442f");
  drug('bort',368,706,'Bortezomib');path('prot6',373,726,'Protein stability and degradation');
  tgt('pmsr1',357,745,'PMSR1');tgt('psmb5',382,745,'PSMB5');path('chr6',373,762,'Chromatin histone acetylation');
  drug('part',368,781,'Parthenolide',true);tgt('hdac1r',410,781,'HDAC1');
  ['ator','lova','simv','fluv'].forEach(n=>ln('g6',n,'a'));ln('meta','g6');ln('bort','g6','a');ln('part','g6','a');
  ln('bort','prot6');ln('prot6','pmsr1');ln('prot6','psmb5');ln('part','chr6');ln('chr6','hdac1r','t');
  // legend
  const L=mk('g',{},P);
  mk('rect',{x:427,y:716,width:51,height:72,fill:"#fff",stroke:"#555","stroke-width":0.6},L);
  mk('rect',{x:427,y:716,width:51,height:9,fill:"#2e9b3c"},L);
  mk('text',{x:452.5,y:723,"font-size":5.5,"font-weight":"bold","text-anchor":"middle",fill:"#222"},L,"Legend");
  mk('rect',{x:432,y:729,width:41,height:11,rx:2,fill:"#fff",stroke:"#555","stroke-width":0.6},L);
  mk('text',{x:452.5,y:737,"font-size":5.5,"font-style":"italic","font-weight":"bold","text-anchor":"middle"},L,"Subtype");
  mk('text',{x:452.5,y:748,"font-size":5,"font-style":"italic","text-anchor":"middle",fill:"#f3e94e"},L,"Pathway");
  mk('rect',{x:432,y:752,width:41,height:11,rx:5.5,fill:"url(#drugB)",stroke:"#333","stroke-width":0.6},L);
  mk('text',{x:452.5,y:760,"font-size":5.5,"font-style":"italic","font-weight":"bold","text-anchor":"middle"},L,"Drug");
  mk('circle',{cx:452.5,cy:777,r:7.5,fill:"#38a9e2"},L);
  mk('text',{x:452.5,y:779,"font-size":4.8,"font-style":"italic","text-anchor":"middle",fill:"#222"},L,"Target gene");
})();
</script>
</body></html>
